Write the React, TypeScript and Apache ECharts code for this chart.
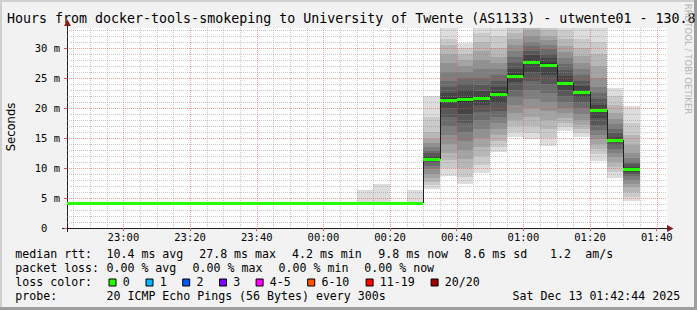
import React, { useEffect, useRef } from "react";
import * as echarts from "echarts";

// ---------- data ----------
const TITLE = "Hours from docker-tools-smokeping to University of Twente (AS1133) - utwente01 - 130.8";
const RANGE_START = "22:43:05";
const RANGE_END = "01:43:05";
const Y_MAX_MS = 200 / 6; // top of the value axis (ms)
const STEP_SECONDS = 300;

// end time of each 5-minute step and its median rtt (ms)
const stepEnds = [
  "22:45", "22:50", "22:55", "23:00", "23:05", "23:10", "23:15", "23:20", "23:25", "23:30", "23:35",
  "23:40", "23:45", "23:50", "23:55", "00:00", "00:05", "00:10", "00:15", "00:20", "00:25", "00:30",
  "00:35", "00:40", "00:45", "00:50", "00:55", "01:00", "01:05", "01:10", "01:15", "01:20", "01:25",
  "01:30", "01:35",
];
const medians = [
  4.2, 4.2, 4.2, 4.2, 4.2, 4.2, 4.2, 4.2, 4.2, 4.2, 4.2,
  4.2, 4.2, 4.2, 4.2, 4.2, 4.2, 4.2, 4.2, 4.2, 4.2, 4.2,
  11.55, 21.4, 21.55, 21.7, 22.3, 25.4, 27.7, 27.1, 24.1, 22.6, 19.6,
  14.6, 9.8,
];

// steps with visible smoke, and their 20 sorted ping times (ms)
const smokeSteps = [
  "00:15", "00:20", "00:30", "00:35", "00:40", "00:45", "00:50", "00:55",
  "01:00", "01:05", "01:10", "01:15", "01:20", "01:25", "01:30", "01:35",
];
const smokePings = [
  [4.0, 4.1, 4.1, 4.1, 4.1, 4.1, 4.2, 4.2, 4.2, 4.2, 4.2, 4.2, 4.2, 4.2, 4.3, 4.3, 4.3, 4.3, 4.4, 6.3],
  [4.0, 4.1, 4.1, 4.1, 4.1, 4.1, 4.2, 4.2, 4.2, 4.2, 4.2, 4.2, 4.2, 4.2, 4.3, 4.3, 4.3, 4.3, 4.4, 7.3],
  [4.0, 4.1, 4.1, 4.1, 4.1, 4.1, 4.2, 4.2, 4.2, 4.2, 4.2, 4.2, 4.2, 4.2, 4.3, 4.3, 4.3, 4.3, 4.4, 6.3],
  [6.5, 7.2, 7.6, 8.3, 9.0, 9.8, 10.3, 10.8, 11.2, 11.4, 11.7, 12.0, 12.5, 12.8, 13.5, 14.2, 14.8, 16.0, 18.5, 22.0],
  [8.7, 10, 11.4, 12.5, 14, 15.5, 17, 18.5, 20, 21.2, 21.6, 22.5, 23.5, 24.5, 26, 27.5, 29, 30.5, 31.5, 34],
  [7.3, 8.5, 10, 11.5, 13, 14.5, 16, 17.5, 19, 20.8, 21.8, 23, 24, 25, 26, 27, 28, 29, 30, 30.9],
  [9.2, 10.5, 12, 13.5, 15, 16.5, 18, 19.3, 20.5, 21.4, 22, 22.8, 23.8, 25, 26.5, 28, 29.5, 31, 32.5, 34],
  [12.6, 13.5, 14.5, 15.5, 16.5, 17.5, 18.5, 19.5, 20.8, 22, 22.6, 23.5, 24.5, 25.5, 26.5, 27.5, 28.5, 30, 32, 34],
  [15.1, 16, 17, 18, 19.2, 20.5, 21.8, 23, 24.3, 25.2, 25.6, 26.5, 27.5, 28.5, 29.5, 30.5, 31.5, 32.5, 33.5, 35],
  [14.8, 15.8, 17, 18.5, 20, 21.5, 23, 24.5, 26, 27.3, 28, 28.8, 29.5, 30.3, 31, 32, 33, 34, 35, 36],
  [13.7, 15, 16.5, 18, 19.5, 21, 22.5, 24, 25.5, 26.8, 27.5, 28.3, 29, 29.8, 30.5, 31.3, 32, 33, 34, 35.5],
  [16.2, 16.8, 17.5, 18.3, 19.2, 20, 21, 22, 23, 23.8, 24.4, 25.3, 26.3, 27.3, 28.3, 29.3, 30.3, 31.5, 33, 35],
  [15.1, 15.8, 16.5, 17.2, 18, 19, 20, 21, 21.8, 22.4, 22.8, 23.6, 24.5, 25.5, 26.5, 27.5, 28.7, 30, 31.5, 34],
  [11.2, 12.3, 13.2, 14, 14.8, 15.5, 16.3, 17.2, 18.3, 19.3, 19.9, 20.5, 21.5, 22.5, 23.5, 25, 27, 29, 31, 33.5],
  [8.4, 9.3, 10.2, 11, 11.8, 12.5, 13.2, 13.8, 14.3, 14.6, 14.8, 15.2, 15.8, 16.5, 17.3, 18.2, 19.2, 20.5, 22, 23.4],
  [4.5, 5.2, 6, 6.8, 7.4, 8, 8.6, 9, 9.4, 9.7, 9.9, 10.2, 10.6, 11, 11.6, 12.5, 13.8, 15.5, 17.5, 20.3],
];

// legend / statistics texts
const rttStats = ["10.4 ms avg", "27.8 ms max", "4.2 ms min", "9.8 ms now", "8.6 ms sd", "1.2", "am/s"];
const lossStats = ["0.00 % avg", "0.00 % max", "0.00 % min", "0.00 % now"];
const lossLabels = ["0", "1", "2", "3", "4-5", "6-10", "11-19", "20/20"];
const lossColors = ["#26ff00", "#00b8ff", "#0059ff", "#7e00ff", "#ff00ff", "#ff5500", "#ff0000", "#a10000"];
const PROBE_TEXT = "20 ICMP Echo Pings (56 Bytes) every 300s";
const DATE_TEXT = "Sat Dec 13 01:42:44 2025";

// ---------- helpers ----------
const toSec = (s: string) => {
  const [h, m, sec] = s.split(":").map(Number);
  return (h < 12 ? 86400 : 0) + h * 3600 + m * 60 + (sec || 0);
};
const fmtTime = (v: number) => {
  const t = ((v % 86400) + 86400) % 86400;
  const h = Math.floor(t / 3600);
  const m = Math.floor((t % 3600) / 60);
  return `${String(h).padStart(2, "0")}:${String(m).padStart(2, "0")}`;
};

const X_MIN = toSec(RANGE_START);
const X_MAX = toSec(RANGE_END);
const majorTimes: number[] = [];
const minorTimes: number[] = [];
for (let t = Math.ceil(X_MIN / STEP_SECONDS) * STEP_SECONDS; t <= X_MAX; t += STEP_SECONDS) {
  if (t % 1200 === 0) majorTimes.push(t);
  else minorTimes.push(t);
}

const MONO = "'DejaVu Sans Mono', monospace";
const SANS = "'DejaVu Sans', sans-serif";
const LEGEND_FS = 11.6;

export default function App() {
  const ref = useRef<HTMLDivElement>(null);

  useEffect(() => {
    if (!ref.current) return;
    const chart = echarts.init(ref.current, null, { renderer: "svg" });

    const gridRender = (params: any, api: any) => {
      const cs = params.coordSys;
      const children: any[] = [];
      const minorC = "rgba(143,143,143,0.5)";
      const majorC = "rgba(222,79,79,0.55)";
      const vline = (t: number, c: string) => {
        const x = Math.round(api.coord([t, 0])[0]) + 0.5;
        children.push({ type: "line", shape: { x1: x, y1: cs.y, x2: x, y2: cs.y + cs.height },
          style: { stroke: c, lineWidth: 1, lineDash: [1, 1] } });
      };
      const hline = (v: number, c: string) => {
        const y = Math.round(api.coord([X_MIN, v])[1]) + 0.5;
        children.push({ type: "line", shape: { x1: cs.x, y1: y, x2: cs.x + cs.width, y2: y },
          style: { stroke: c, lineWidth: 1, lineDash: [1, 1] } });
      };
      minorTimes.forEach((t) => vline(t, minorC));
      for (let v = 1; v < Y_MAX_MS; v++) if (v % 5 !== 0) hline(v, minorC);
      majorTimes.forEach((t) => vline(t, majorC));
      for (let v = 5; v < Y_MAX_MS; v += 5) hline(v, majorC);
      return { type: "group", children };
    };

    const smokeRender = (params: any, api: any) => {
      const pings = smokePings[params.dataIndex];
      const t1 = api.value(0);
      const t0 = t1 - STEP_SECONDS;
      const xa = Math.round(api.coord([t0, 0])[0]);
      const xb = Math.round(api.coord([t1, 0])[0]);
      const half = pings.length / 2;
      const children: any[] = [];
      for (let b = 1; b <= half; b++) {
        const lo = Math.min(pings[b - 1], Y_MAX_MS);
        const hi = Math.min(pings[pings.length - b], Y_MAX_MS);
        const ya = Math.round(api.coord([t0, hi])[1]);
        const yb = Math.round(api.coord([t0, lo])[1]);
        const g = Math.floor((190 / half) * (half - b)) + 50;
        children.push({ type: "rect", shape: { x: xa, y: ya, width: xb - xa, height: Math.max(yb - ya, 0) },
          style: { fill: `rgb(${g},${g},${g})` } });
      }
      return { type: "group", children };
    };

    const medianRender = (params: any, api: any) => {
      const i = params.dataIndex;
      const t1 = api.value(0);
      const m = api.value(1);
      const t0 = Math.max(t1 - STEP_SECONDS, X_MIN);
      const xa = Math.round(api.coord([t0, m])[0]);
      const xb = Math.round(api.coord([t1, m])[0]);
      const y = Math.round(api.coord([t0, m])[1]);
      const children: any[] = [];
      if (i > 0 && medians[i - 1] !== m) {
        const yp = Math.round(api.coord([t0, medians[i - 1]])[1]);
        children.push({ type: "line", shape: { x1: xa + 0.5, y1: yp, x2: xa + 0.5, y2: y },
          style: { stroke: "#202020", lineWidth: 1 } });
      }
      children.push({ type: "rect", shape: { x: xa, y: y - 1, width: xb - xa, height: 3 },
        style: { fill: lossColors[0] } });
      return { type: "group", children };
    };

    const legendText = (text: string, x: number, y: number) => ({
      type: "text", x, y, silent: true,
      style: { text, fontFamily: MONO, fontSize: LEGEND_FS, fill: "#000", align: "left", verticalAlign: "middle" },
    });

    const rttX = [106.5, 199.2, 292, 378.3, 464.3, 550, 585.3];
    const lossX = [106.5, 192.6, 278.6, 364.3];
    const boxX = [108.5, 145.5, 182.2, 219, 255.6, 307.2, 365.6, 430.6];
    const rowY = [254.3, 268.3, 282.3, 295.8];

    const graphic: any[] = [
      // 3D frame
      { type: "rect", shape: { x: 0, y: 0, width: 697, height: 2 }, style: { fill: "#cfcfcf" }, silent: true },
      { type: "rect", shape: { x: 0, y: 0, width: 2, height: 310 }, style: { fill: "#cfcfcf" }, silent: true },
      { type: "rect", shape: { x: 0, y: 307, width: 697, height: 3 }, style: { fill: "#9e9e9e" }, silent: true },
      { type: "rect", shape: { x: 694, y: 0, width: 3, height: 310 }, style: { fill: "#9e9e9e" }, silent: true },
      // title
      { type: "text", x: 7, y: 18.5, silent: true,
        style: { text: TITLE, fontFamily: MONO, fontSize: 13.3, fill: "#000", align: "left", verticalAlign: "middle" } },
      // watermark
      { type: "text", x: 687.5, y: 59, rotation: -Math.PI / 2, silent: true,
        style: { text: "RRDTOOL / TOBI OETIKER", fontFamily: SANS, fontSize: 8.6, fill: "#b4b4b4", align: "center", verticalAlign: "middle" } },
      // y axis name
      { type: "text", x: 10.5, y: 127, rotation: Math.PI / 2, silent: true,
        style: { text: "Seconds", fontFamily: SANS, fontSize: 11.6, fill: "#000", align: "center", verticalAlign: "middle" } },
      // axis extensions and arrows
      { type: "line", shape: { x1: 62, y1: 228.5, x2: 67, y2: 228.5 }, style: { stroke: "#1f1f1f", lineWidth: 1 }, silent: true },
      { type: "line", shape: { x1: 67.5, y1: 228, x2: 67.5, y2: 232 }, style: { stroke: "#1f1f1f", lineWidth: 1 }, silent: true },
      { type: "line", shape: { x1: 67.5, y1: 28, x2: 67.5, y2: 24 }, style: { stroke: "#1f1f1f", lineWidth: 1 }, silent: true },
      { type: "polygon", shape: { points: [[667, 225], [673.5, 228.5], [667, 232]] }, style: { fill: "#801f1f" }, silent: true },
      { type: "polygon", shape: { points: [[64, 26], [67.5, 19.5], [71, 26]] }, style: { fill: "#801f1f" }, silent: true },
      // legend rows
      legendText("median rtt:", 15.3, rowY[0]),
      ...rttStats.map((s, i) => legendText(s, rttX[i], rowY[0])),
      legendText("packet loss:", 15.3, rowY[1]),
      ...lossStats.map((s, i) => legendText(s, lossX[i], rowY[1])),
      legendText("loss color:", 15.3, rowY[2]),
      ...lossLabels.map((s, i) => legendText(s, boxX[i] + 14.2, rowY[2])),
      ...lossColors.map((c, i) => ({
        type: "rect", silent: true,
        shape: { x: boxX[i] + 0.5, y: 279, width: 7, height: 7 },
        style: { fill: c, stroke: "#000", lineWidth: 1 },
      })),
      legendText("probe:", 15.3, rowY[3]),
      legendText(PROBE_TEXT, 106.5, rowY[3]),
      legendText(DATE_TEXT, 512.6, rowY[3]),
    ];

    const option: any = {
      animation: false,
      backgroundColor: "#f2f2f2",
      grid: { left: 67, top: 28, width: 600, height: 200, show: true, backgroundColor: "#ffffff", borderWidth: 0 },
      xAxis: {
        type: "value", min: X_MIN, max: X_MAX,
        axisLine: { show: true, onZero: false, lineStyle: { color: "#1f1f1f", width: 1 } },
        axisTick: { show: true, customValues: majorTimes, length: 3, lineStyle: { color: "#de4f4f" } },
        axisLabel: { show: true, customValues: majorTimes, formatter: (v: number) => fmtTime(v),
          fontFamily: MONO, fontSize: 10.5, color: "#000", margin: 3 },
        splitLine: { show: false },
      },
      yAxis: {
        type: "value", min: 0, max: Y_MAX_MS, interval: 5,
        axisLine: { show: true, onZero: false, lineStyle: { color: "#1f1f1f", width: 1 } },
        axisTick: { show: true, length: 3, lineStyle: { color: "#de4f4f" } },
        axisLabel: { showMaxLabel: false, fontFamily: MONO, fontSize: 10.5, color: "#000", margin: 7,
          formatter: (v: number) => (v === 0 ? "0\u00a0\u00a0" : `${v} m`) },
        splitLine: { show: false },
      },
      series: [
        {
          type: "custom", name: "smoke", z: 2, silent: true,
          renderItem: smokeRender,
          data: smokeSteps.map((s, i) => [toSec(s), smokePings[i][9]]),
        },
        {
          type: "custom", name: "grid", z: 3, silent: true,
          renderItem: gridRender,
          data: [[X_MIN, 0]],
        },
        {
          type: "custom", name: "median", z: 4, silent: true,
          renderItem: medianRender,
          data: stepEnds.map((s, i) => [toSec(s), medians[i]]),
        },
      ],
      graphic,
    };

    chart.setOption(option);
    return () => chart.dispose();
  }, []);

  return (
    <div
      ref={ref}
      style={{ position: "fixed", left: 0, top: 0, width: 697, height: 310 }}
    />
  );
}
